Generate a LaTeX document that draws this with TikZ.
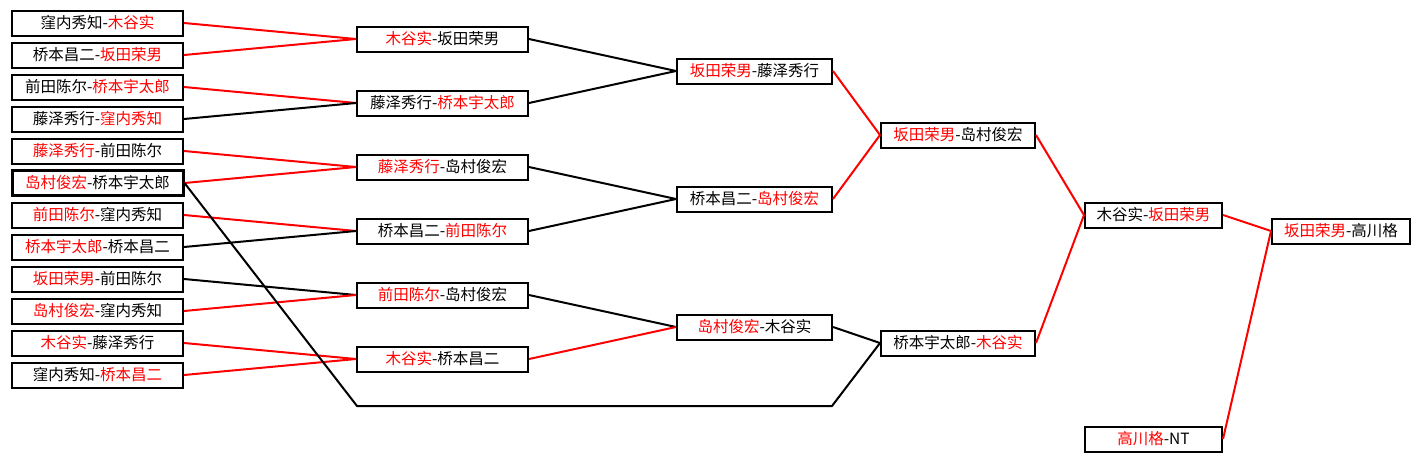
\documentclass[tikz,border=0pt]{standalone}
\usepackage{fontspec}
\setmainfont{Noto Sans CJK SC}
\newcommand{\wn}[1]{\textcolor{red}{#1}}
\tikzset{
  match/.style={draw, line width=2pt, inner sep=0pt, minimum height=25pt, fill=white, font=\fontsize{15.5}{17}\selectfont},
  win/.style={red, line width=2pt},
  lose/.style={black, line width=2pt}
}

\begin{document}
\begin{tikzpicture}[x=1pt, y=-1pt]
\useasboundingbox[fill=white] (0,0) rectangle (1421,461);

% First round
\node[match, minimum width=171pt] (r1n1) at (97.5,23) {窪内秀知-\wn{木谷实}};
\node[match, minimum width=171pt] (r1n2) at (97.5,55) {桥本昌二-\wn{坂田荣男}};
\node[match, minimum width=171pt] (r1n3) at (97.5,87) {前田陈尔-\wn{桥本宇太郎}};
\node[match, minimum width=171pt] (r1n4) at (97.5,119) {藤泽秀行-\wn{窪内秀知}};
\node[match, minimum width=171pt] (r1n5) at (97.5,151) {\wn{藤泽秀行}-前田陈尔};
\node[match, minimum width=171pt, line width=3pt] (r1n6) at (97.5,183) {\wn{岛村俊宏}-桥本宇太郎};
\node[match, minimum width=171pt] (r1n7) at (97.5,215) {\wn{前田陈尔}-窪内秀知};
\node[match, minimum width=171pt] (r1n8) at (97.5,247) {\wn{桥本宇太郎}-桥本昌二};
\node[match, minimum width=171pt] (r1n9) at (97.5,279) {\wn{坂田荣男}-前田陈尔};
\node[match, minimum width=171pt] (r1n10) at (97.5,311) {\wn{岛村俊宏}-窪内秀知};
\node[match, minimum width=171pt] (r1n11) at (97.5,343) {\wn{木谷实}-藤泽秀行};
\node[match, minimum width=171pt] (r1n12) at (97.5,375) {窪内秀知-\wn{桥本昌二}};

% Second round
\node[match, minimum width=171pt] (r2n1) at (442.5,39) {\wn{木谷实}-坂田荣男};
\node[match, minimum width=171pt] (r2n2) at (442.5,103) {藤泽秀行-\wn{桥本宇太郎}};
\node[match, minimum width=171pt] (r2n3) at (442.5,167) {\wn{藤泽秀行}-岛村俊宏};
\node[match, minimum width=171pt] (r2n4) at (442.5,231) {桥本昌二-\wn{前田陈尔}};
\node[match, minimum width=171pt] (r2n5) at (442.5,295) {\wn{前田陈尔}-岛村俊宏};
\node[match, minimum width=171pt] (r2n6) at (442.5,359) {\wn{木谷实}-桥本昌二};

% Third round
\node[match, minimum width=155pt] (r3n1) at (754.5,71) {\wn{坂田荣男}-藤泽秀行};
\node[match, minimum width=155pt] (r3n2) at (754.5,199) {桥本昌二-\wn{岛村俊宏}};
\node[match, minimum width=155pt] (r3n3) at (754.5,327) {\wn{岛村俊宏}-木谷实};

% Fourth round
\node[match, minimum width=154pt] (r4n1) at (958,135) {\wn{坂田荣男}-岛村俊宏};
\node[match, minimum width=154pt] (r4n2) at (958,343) {桥本宇太郎-\wn{木谷实}};

% Semi-final and final
\node[match, minimum width=137pt] (r5n1) at (1153.5,215) {木谷实-\wn{坂田荣男}};
\node[match, minimum width=137pt] (nt) at (1153.5,439) {\wn{高川格}-NT};
\node[match, minimum width=138pt] (fin) at (1341,231) {\wn{坂田荣男}-高川格};

% Connectors, first round
\draw[win] (r1n1.east) -- (r2n1.west);
\draw[win] (r1n2.east) -- (r2n1.west);
\draw[win] (r1n3.east) -- (r2n2.west);
\draw[lose] (r1n4.east) -- (r2n2.west);
\draw[win] (r1n5.east) -- (r2n3.west);
\draw[win] (r1n6.east) -- (r2n3.west);
\draw[win] (r1n7.east) -- (r2n4.west);
\draw[lose] (r1n8.east) -- (r2n4.west);
\draw[lose] (r1n9.east) -- (r2n5.west);
\draw[win] (r1n10.east) -- (r2n5.west);
\draw[win] (r1n11.east) -- (r2n6.west);
\draw[win] (r1n12.east) -- (r2n6.west);

% Long way round
\coordinate (byeL) at (357,406);
\coordinate (byeR) at (832,406);
\draw[lose, line join=round] (r1n6.east) -- (byeL) -- (byeR) -- (r4n2.west);

% Connectors, second round
\draw[lose] (r2n1.east) -- (r3n1.west);
\draw[lose] (r2n2.east) -- (r3n1.west);
\draw[lose] (r2n3.east) -- (r3n2.west);
\draw[lose] (r2n4.east) -- (r3n2.west);
\draw[lose] (r2n5.east) -- (r3n3.west);
\draw[win] (r2n6.east) -- (r3n3.west);

% Connectors, third round
\draw[win] (r3n1.east) -- (r4n1.west);
\draw[win] (r3n2.east) -- (r4n1.west);
\draw[lose] (r3n3.east) -- (r4n2.west);

% Connectors, last rounds
\draw[win] (r4n1.east) -- (r5n1.west);
\draw[win] (r4n2.east) -- (r5n1.west);
\draw[win] (r5n1.east) -- (fin.west);
\draw[win] (nt.east) -- (fin.west);
\end{tikzpicture}
\end{document}
